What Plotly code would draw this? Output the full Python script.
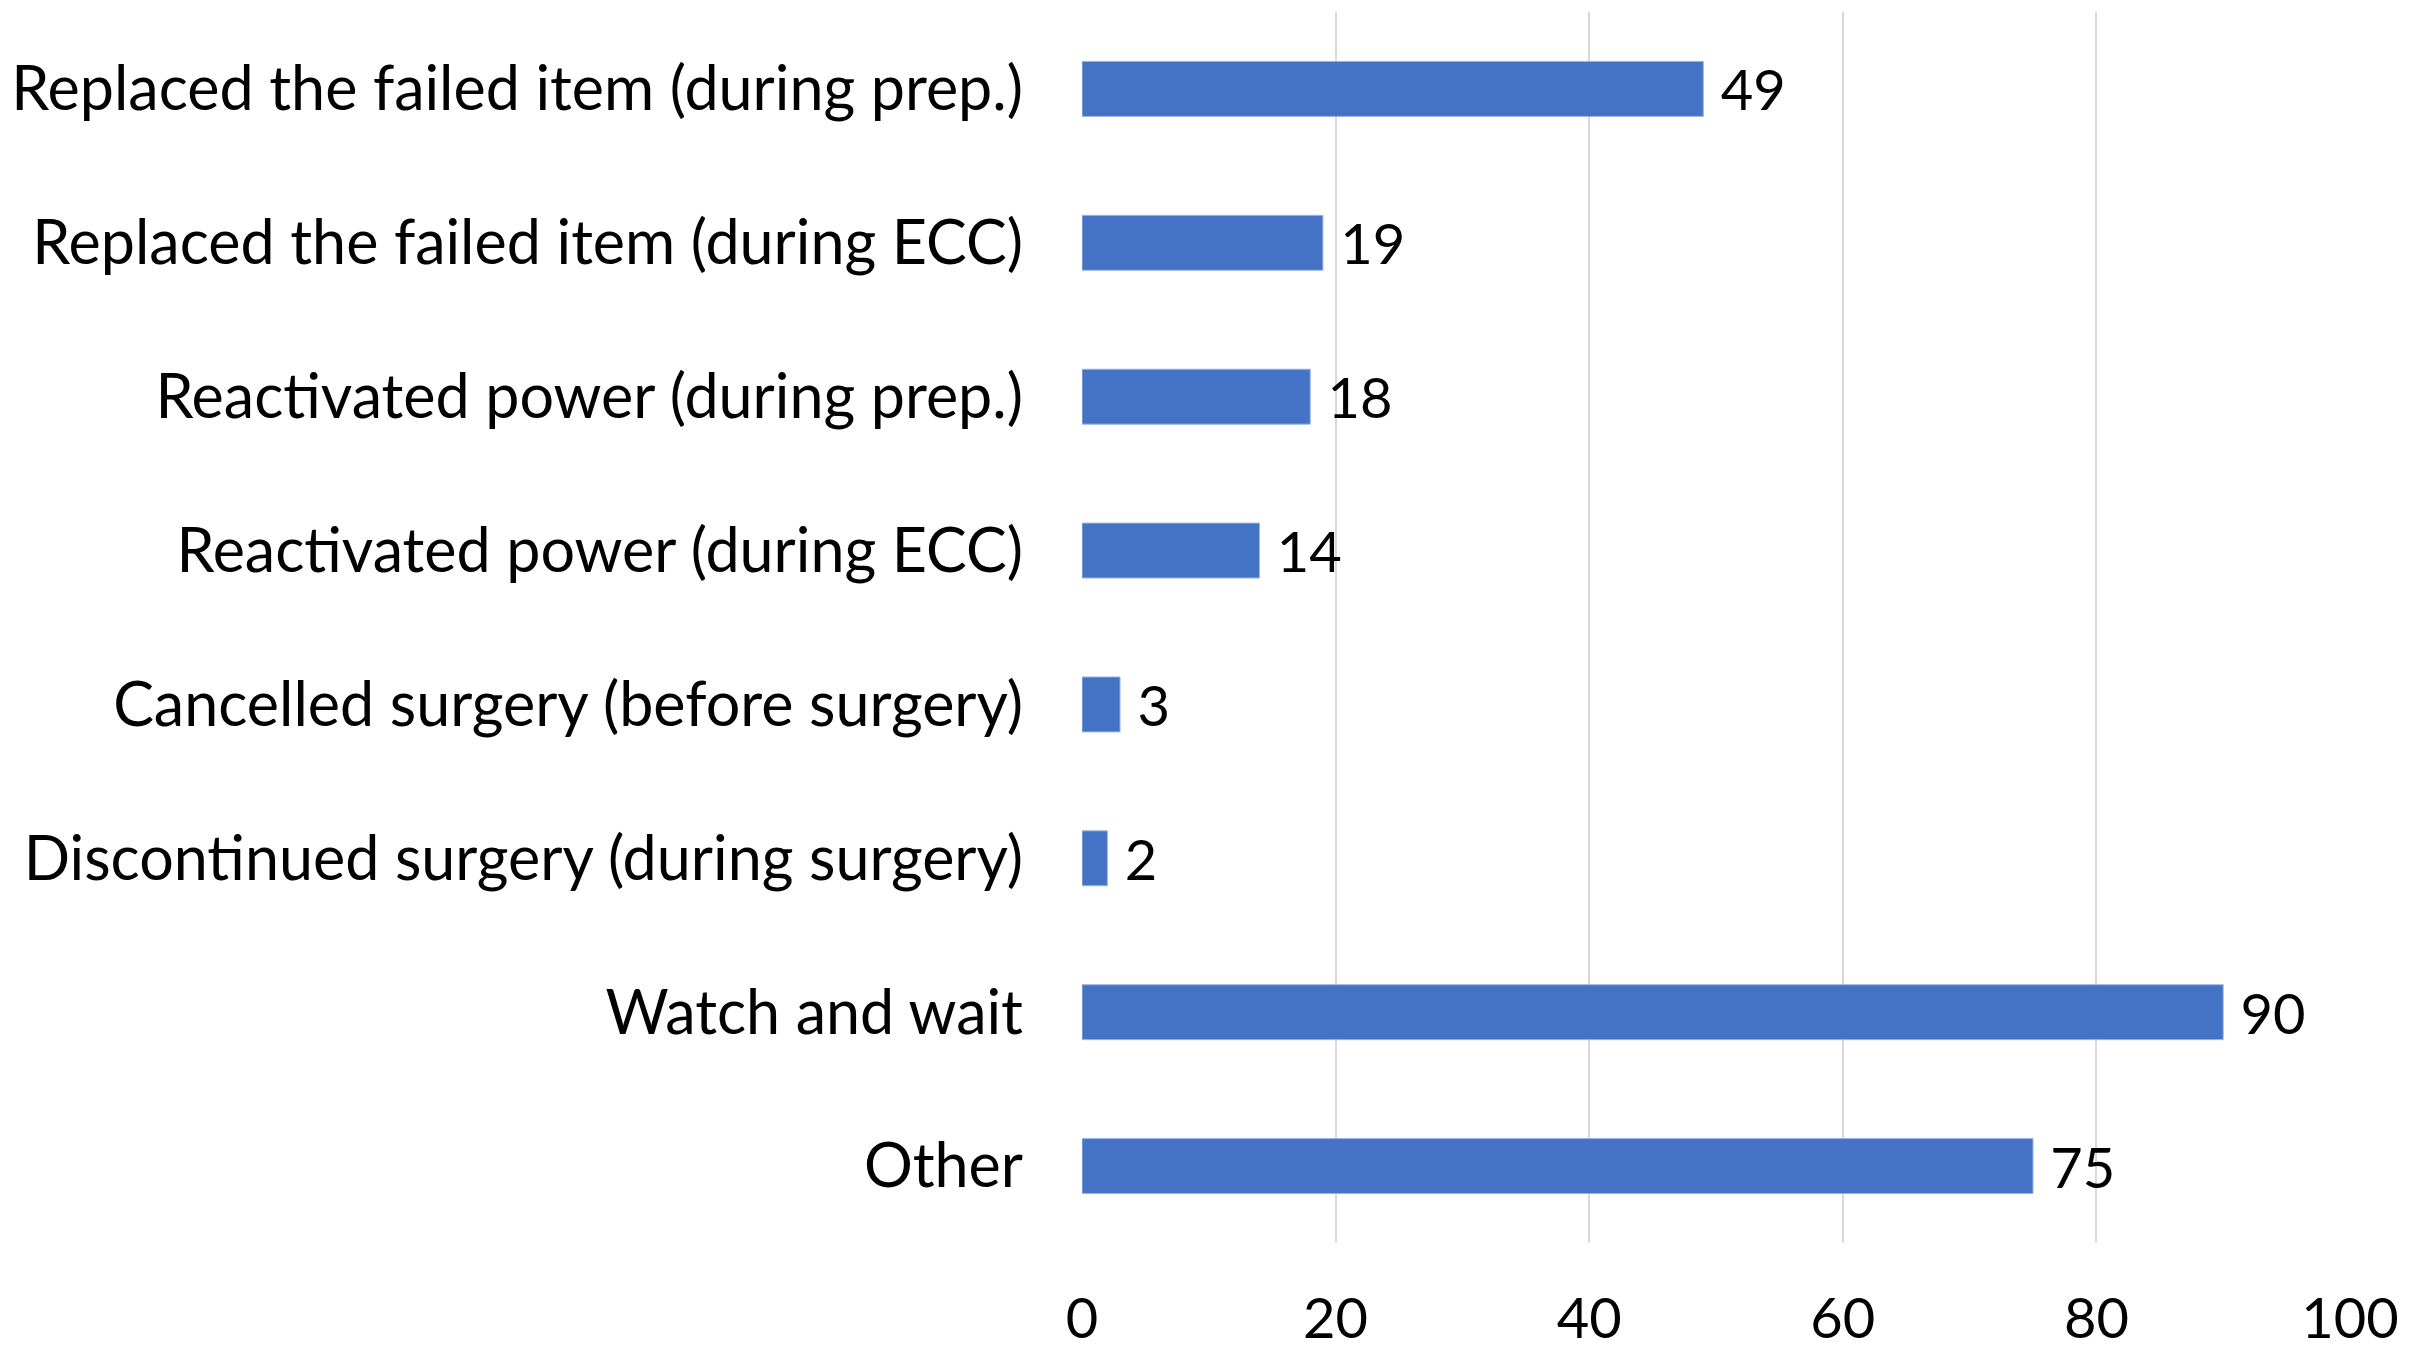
import plotly.graph_objects as go

# categories top to bottom, with counts
categories = [
    "Replaced the failed item (during prep.)",
    "Replaced the failed item (during ECC)",
    "Reactivated power (during prep.)",
    "Reactivated power (during ECC)",
    "Cancelled surgery (before surgery)",
    "Discontinued surgery (during surgery)",
    "Watch and wait",
    "Other",
]
counts = [49, 19, 18, 14, 3, 2, 90, 75]
x_ticks = [0, 20, 40, 60, 80, 100]

BAR_COLOR = "#4472C4"
FONT = "Lato"

fig = go.Figure()
fig.add_trace(
    go.Bar(
        x=counts,
        y=categories,
        orientation="h",
        width=0.357,
        marker=dict(color=BAR_COLOR, line=dict(color="#9DB4DE", width=1)),
        texttemplate="\u00a0%{x}",
        textposition="outside",
        constraintext="none",
        textfont=dict(family=FONT, size=56, color="black"),
        cliponaxis=False,
        hovertemplate="%{y}: %{x}<extra></extra>",
    )
)

# page body adds an 8px margin, so the figure is 8px smaller than the window
fig.update_layout(
    width=2420,
    height=1343,
    margin=dict(l=1074, r=78, t=4, b=108),
    paper_bgcolor="white",
    plot_bgcolor="white",
    showlegend=False,
    font=dict(family=FONT, size=56, color="black"),
)

fig.update_xaxes(
    range=[0, 100],
    tickvals=x_ticks,
    showgrid=True,
    gridcolor="#D9D9D9",
    gridwidth=2,
    zeroline=False,
    showline=False,
    ticklabelstandoff=38,
    tickfont=dict(family=FONT, size=56, color="black"),
    automargin=False,
)
fig.update_yaxes(
    autorange="reversed",
    showgrid=False,
    zeroline=False,
    showline=False,
    ticklabelstandoff=58,
    tickfont=dict(family=FONT, size=61, color="black"),
    automargin=False,
)

fig.write_html("out.html")
